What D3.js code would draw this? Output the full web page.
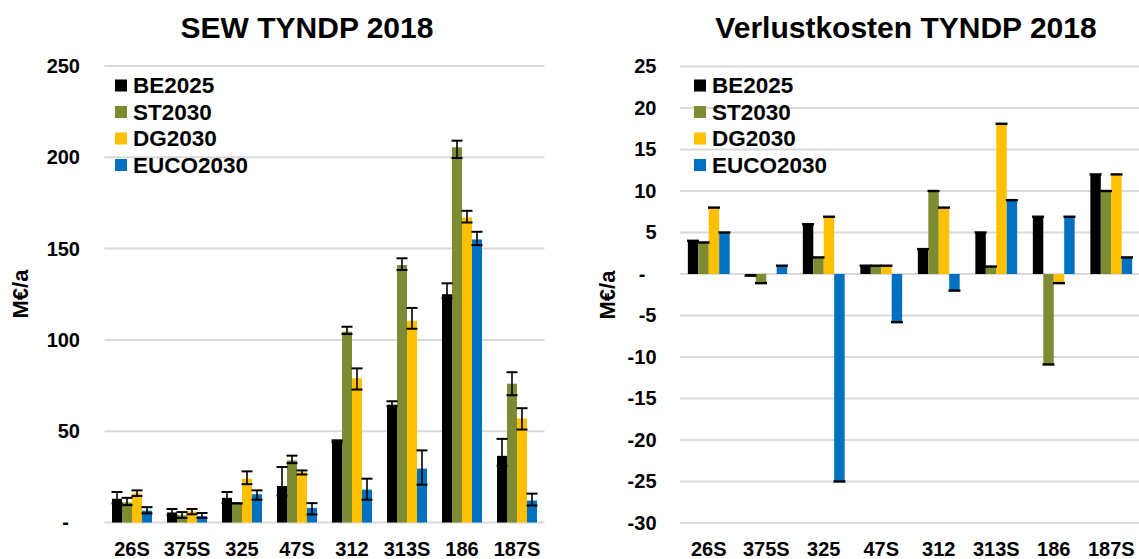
<!DOCTYPE html>
<html>
<head>
<meta charset="utf-8">
<script src="https://cdn.jsdelivr.net/npm/d3@7"></script>
<style>
  html, body { margin: 0; padding: 0; background: #fff; }
  svg { display: block; font-family: "Liberation Sans", Arial, sans-serif; font-weight: bold; }
</style>
</head>
<body>
<svg id="chart" width="1139" height="559"></svg>
<script>
// Project codes and scenarios
const categories = ["26S", "375S", "325", "47S", "312", "313S", "186", "187S"];
const scenarios = ["BE2025", "ST2030", "DG2030", "EUCO2030"];
const scenarioColors = ["#000000", "#7d8b33", "#ffc000", "#0070c0"];

// SEW per scenario (M€/a) with error ranges
const sewBE2025 = [13, 5.5, 13.5, 20, 44.5, 64.5, 125, 36.5];
const sewST2030 = [11, 4, 10.5, 34, 104.5, 141, 205.5, 76];
const sewDG2030 = [16, 6, 24, 27.5, 79, 110.5, 167, 57];
const sewEUCO2030 = [6.5, 3.5, 15.5, 8, 18, 29.5, 155, 12];

const sewBE2025Lo = [10.5, 4, 10.6, 14.7, 44, 63.7, 122.8, 31.1];
const sewBE2025Hi = [16.7, 7.4, 16.7, 30.4, 45, 66.4, 131, 45.8];
const sewST2030Lo = [9.5, 2.5, 10.5, 32.5, 103.2, 138.3, 199.6, 69.7];
const sewST2030Hi = [13.5, 5.7, 10.5, 36.6, 107.2, 144.7, 209.1, 82.3];
const sewDG2030Lo = [14.5, 4.5, 21, 26.3, 72.8, 106.1, 164.3, 50.9];
const sewDG2030Hi = [17.6, 7.4, 28, 28.5, 84.4, 117.5, 170.7, 62.6];
const sewEUCO2030Lo = [5, 2.5, 12.5, 4.4, 12.5, 20.7, 151.9, 9.3];
const sewEUCO2030Hi = [8.4, 5.2, 17.6, 10.6, 24, 39.5, 159.2, 15.8];

// Loss costs per scenario (M€/a)
const lossBE2025 = [4, -0.2, 6, 1, 3, 5, 6.9, 12];
const lossST2030 = [3.8, -1.1, 2, 1, 10, 0.9, -10.9, 10];
const lossDG2030 = [8, 0, 6.9, 1, 8, 18.1, -1.1, 12];
const lossEUCO2030 = [5, 1, -25, -5.8, -2, 8.9, 6.9, 2];

// Axis ticks
const sewTicks = [0, 50, 100, 150, 200, 250];
const lossTicks = [-30, -25, -20, -15, -10, -5, 0, 5, 10, 15, 20, 25];

const sewValues = [sewBE2025, sewST2030, sewDG2030, sewEUCO2030];
const sewLo = [sewBE2025Lo, sewST2030Lo, sewDG2030Lo, sewEUCO2030Lo];
const sewHi = [sewBE2025Hi, sewST2030Hi, sewDG2030Hi, sewEUCO2030Hi];
const lossValues = [lossBE2025, lossST2030, lossDG2030, lossEUCO2030];

const svg = d3.select("#chart");
const fmtTick = d => d === 0 ? "-" : String(d);

function drawPanel(cfg) {
  const g = svg.append("g");
  const x0 = d3.scaleBand().domain(categories).range([cfg.left, cfg.right])
    .paddingInner(1.5 / 5.5).paddingOuter(0.75 / 5.5);
  const x1 = d3.scaleBand().domain(scenarios).range([0, x0.bandwidth()]).padding(0);
  const y = d3.scaleLinear().domain(cfg.domain).range([cfg.bottom, cfg.top]);

  // gridlines
  g.append("g")
    .selectAll("line").data(cfg.ticks).join("line")
    .attr("x1", cfg.left).attr("x2", cfg.gridRight)
    .attr("y1", d => y(d)).attr("y2", d => y(d))
    .attr("stroke", "#d9d9d9").attr("stroke-width", 2);

  // y tick labels
  const yAxis = g.append("g")
    .attr("transform", `translate(${cfg.labelRight},0)`)
    .call(d3.axisLeft(y).tickValues(cfg.ticks).tickSize(0).tickPadding(0).tickFormat(fmtTick));
  yAxis.select(".domain").remove();
  yAxis.selectAll("text")
    .attr("font-size", 20).attr("font-family", "Liberation Sans, Arial, sans-serif")
    .attr("font-weight", "bold").attr("fill", "#000")
    .attr("dx", d => d === 0 ? -11 : 0);

  // y axis title
  g.append("text")
    .attr("transform", `translate(${cfg.yTitleX},${cfg.yTitleY}) rotate(-90)`)
    .attr("text-anchor", "middle").attr("dominant-baseline", "central")
    .attr("font-size", 22).text("M€/a");

  // x labels
  g.append("g").selectAll("text").data(categories).join("text")
    .attr("x", d => x0(d) + x0.bandwidth() / 2)
    .attr("y", 555.5)
    .attr("text-anchor", "middle").attr("font-size", 20)
    .text(d => d);

  // bars
  const groups = g.append("g").selectAll("g").data(categories).join("g")
    .attr("transform", d => `translate(${x0(d)},0)`);
  groups.each(function (cat, ci) {
    const grp = d3.select(this);
    scenarios.forEach((s, si) => {
      const v = cfg.values[si][ci];
      grp.append("rect")
        .attr("x", x1(s)).attr("width", x1.bandwidth())
        .attr("y", Math.min(y(v), y(0)))
        .attr("height", Math.abs(y(v) - y(0)))
        .attr("fill", scenarioColors[si]);
    });
  });

  // error bars / end markers
  groups.each(function (cat, ci) {
    const grp = d3.select(this);
    scenarios.forEach((s, si) => {
      const cx = x1(s) + x1.bandwidth() / 2;
      const cw = cfg.capWidth / 2;
      if (cfg.lo) {
        const lo = cfg.lo[si][ci], hi = cfg.hi[si][ci];
        grp.append("line")
          .attr("x1", cx).attr("x2", cx).attr("y1", y(lo)).attr("y2", y(hi))
          .attr("stroke", "#000").attr("stroke-width", 1.6);
        [lo, hi].forEach(e => grp.append("line")
          .attr("x1", cx - cw).attr("x2", cx + cw).attr("y1", y(e)).attr("y2", y(e))
          .attr("stroke", "#000").attr("stroke-width", 2));
      } else {
        const v = cfg.values[si][ci];
        if (v !== 0) {
          grp.append("line")
            .attr("x1", cx - cw).attr("x2", cx + cw).attr("y1", y(v)).attr("y2", y(v))
            .attr("stroke", "#000").attr("stroke-width", 2.4);
        }
      }
    });
  });

  // title
  g.append("text").attr("x", cfg.titleX).attr("y", 38)
    .attr("text-anchor", "middle").attr("font-size", 30).text(cfg.title);

  // legend
  const lg = g.append("g").selectAll("g").data(scenarios).join("g")
    .attr("transform", (d, i) => `translate(${cfg.legendX},${85.5 + i * 26.5})`);
  lg.append("rect").attr("x", 0).attr("y", -6).attr("width", 12).attr("height", 12)
    .attr("fill", (d, i) => scenarioColors[i]);
  lg.append("text").attr("x", 18).attr("y", 0).attr("dominant-baseline", "central")
    .attr("font-size", 22.5).text(d => d);
}

drawPanel({
  title: "SEW TYNDP 2018", titleX: 307,
  left: 104.5, right: 544.5, gridRight: 544.5, top: 66, bottom: 522.5,
  domain: [0, 250], ticks: sewTicks, labelRight: 80,
  yTitleX: 20, yTitleY: 294, legendX: 115,
  values: sewValues, lo: sewLo, hi: sewHi, capWidth: 11
});

drawPanel({
  title: "Verlustkosten TYNDP 2018", titleX: 906,
  left: 680, right: 1140, gridRight: 1139, top: 66.5, bottom: 523,
  domain: [-30, 25], ticks: lossTicks, labelRight: 656.5,
  yTitleX: 607, yTitleY: 295, legendX: 694,
  values: lossValues, capWidth: 12
});
</script>
</body>
</html>
